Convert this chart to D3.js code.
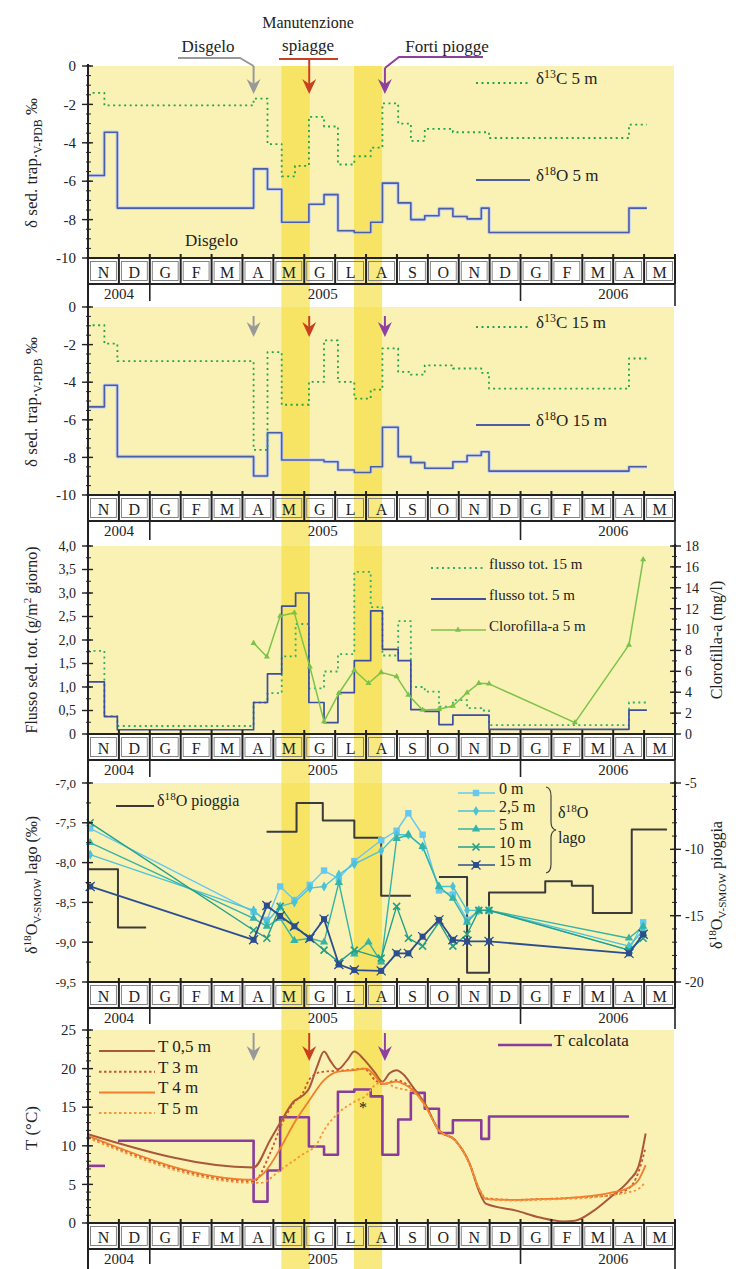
<!DOCTYPE html>
<html><head><meta charset="utf-8">
<script src="https://cdn.jsdelivr.net/npm/d3@7"></script>
<style>
body{margin:0;background:#fff}
svg{display:block}
text{font-family:"Liberation Serif","Times New Roman",serif;fill:#222}
</style>
</head><body>
<svg id="c" width="736" height="1269"></svg>
<script>
// ---------- categories / ticks ----------
const monthLabels = ["N","D","G","F","M","A","M","G","L","A","S","O","N","D","G","F","M","A","M"];
const yearLabels = ["2004","2005","2006"];
const yearBreaks = [2, 14];
const yearLabelAt = [1, 7.6, 17];
const highlightStart = [6.26, 8.61];
const highlightEnd = [7.18, 9.52];
const eventNames = ["Disgelo", "Manutenzione spiagge", "Forti piogge"];
const eventAt = [5.36, 7.16, 9.61];

// ---------- panel 1 : sediment trap 5 m ----------
const d18O5_x = [0, 0.53, 0.95, 5.36, 5.81, 6.27, 7.15, 7.64, 8.09, 8.62, 9.15, 9.53, 10.04, 10.45, 10.9, 11.36, 11.81, 12.27, 12.73, 12.98, 17.51];
const d18O5_v = [-5.7, -3.45, -7.4, -5.36, -6.42, -8.14, -7.2, -6.7, -8.58, -8.67, -8.14, -6.1, -7.13, -8.0, -7.8, -7.43, -7.84, -7.96, -7.4, -8.67, -7.4];
const d13C5_x = [0.15, 0.53, 5.36, 5.81, 6.27, 6.7, 7.15, 7.64, 8.09, 8.62, 9.15, 9.53, 10.04, 10.45, 10.9, 11.81, 12.98, 17.51];
const d13C5_v = [-1.4, -2.05, -1.7, -4.07, -5.75, -5.2, -2.65, -3.15, -5.13, -4.7, -4.25, -1.95, -3.0, -3.9, -3.27, -3.45, -3.75, -3.05];
// ---------- panel 2 : sediment trap 15 m ----------
const d18O15_x = [0, 0.53, 0.95, 5.36, 5.81, 6.27, 7.64, 8.09, 8.62, 9.15, 9.53, 10.04, 10.45, 10.9, 11.81, 12.27, 12.73, 12.98, 17.51];
const d18O15_v = [-5.31, -4.16, -7.96, -8.99, -6.69, -8.14, -8.23, -8.67, -8.8, -8.5, -6.4, -7.96, -8.28, -8.58, -8.23, -7.9, -7.7, -8.73, -8.5];
const d13C15_x = [0.15, 0.53, 0.95, 5.36, 5.81, 6.27, 7.15, 7.64, 8.09, 8.62, 9.15, 9.53, 10.04, 10.45, 10.9, 11.81, 12.73, 12.98, 17.51];
const d13C15_v = [-0.97, -1.95, -2.88, -7.6, -2.4, -5.2, -3.98, -1.77, -3.98, -4.87, -4.4, -2.2, -3.45, -3.6, -3.1, -3.27, -3.5, -4.34, -2.74];
const stepEnd = 18.09;
// ---------- panel 3 : fluxes & chlorophyll ----------
const flux5_x = [0, 0.53, 0.95, 5.36, 5.81, 6.27, 6.72, 7.15, 7.64, 8.09, 8.62, 9.15, 9.53, 10.04, 10.45, 10.9, 11.36, 11.81, 12.98, 17.51];
const flux5_v = [1.11, 0.37, 0.09, 0.67, 1.28, 2.72, 3.0, 0.67, 0.24, 0.88, 1.56, 2.62, 1.8, 1.56, 0.52, 0.48, 0.2, 0.4, 0.1, 0.51];
const flux15_x = [0, 0.53, 0.95, 5.36, 5.81, 6.27, 6.72, 7.15, 7.64, 8.09, 8.62, 9.15, 9.53, 10.04, 10.45, 10.9, 11.36, 11.81, 12.27, 12.73, 12.98, 17.51];
const flux15_v = [1.77, 0.38, 0.17, 0.67, 0.87, 1.65, 2.34, 0.97, 1.33, 1.7, 3.45, 2.7, 1.67, 2.4, 1.0, 0.9, 0.58, 0.72, 0.55, 0.5, 0.19, 0.67];
const chl_x = [5.36, 5.79, 6.22, 6.68, 7.18, 7.64, 8.12, 8.62, 9.08, 9.49, 9.99, 10.37, 10.83, 11.36, 11.81, 12.27, 12.65, 12.98, 15.76, 17.51, 17.97];
const chl_v = [8.7, 7.4, 11.3, 11.6, 6.45, 1.2, 3.9, 6.1, 4.86, 5.9, 5.5, 3.74, 2.3, 2.36, 2.68, 3.96, 4.86, 4.8, 1.09, 8.53, 16.7];
// ---------- panel 4 : d18O lake & rain ----------
const lakeDepths = ["0 m", "2,5 m", "5 m", "10 m", "15 m"];
const lake0_x = [0.07, 5.36, 5.79, 6.22, 6.68, 7.18, 7.64, 8.12, 8.62, 9.49, 9.99, 10.37, 10.83, 11.36, 11.81, 12.27, 12.65, 12.98, 17.51, 17.97];
const lake0_v = [-7.57, -8.62, -8.72, -8.3, -8.47, -8.28, -8.1, -8.2, -7.98, -7.72, -7.6, -7.38, -7.65, -8.35, -8.4, -8.72, -8.6, -8.6, -9.1, -8.75];
const lake25_x = [0.07, 5.36, 5.79, 6.22, 6.68, 7.18, 7.64, 8.12, 8.62, 9.49, 9.99, 10.37, 10.83, 11.36, 11.81, 12.27, 12.65, 12.98, 17.51, 17.97];
const lake25_v = [-7.9, -8.6, -8.75, -8.55, -8.5, -8.32, -8.3, -8.15, -8.02, -7.85, -7.65, -7.65, -7.8, -8.3, -8.3, -8.6, -8.6, -8.6, -9.05, -8.85];
const lake5_x = [0.07, 5.36, 5.79, 6.22, 6.68, 7.18, 7.64, 8.12, 8.62, 9.08, 9.49, 9.99, 10.37, 10.83, 11.36, 11.81, 12.27, 12.65, 12.98, 17.51, 17.97];
const lake5_v = [-7.75, -8.7, -8.8, -8.7, -8.98, -8.95, -9.0, -8.25, -9.15, -9.0, -9.25, -7.7, -7.65, -7.8, -8.3, -8.45, -8.75, -8.6, -8.6, -8.95, -8.8];
const lake10_x = [0.07, 5.36, 5.79, 6.22, 6.68, 7.18, 7.64, 8.12, 8.62, 9.49, 9.99, 10.37, 10.83, 11.36, 11.81, 12.27, 12.65, 12.98, 17.51, 17.97];
const lake10_v = [-7.5, -8.85, -8.95, -8.55, -8.8, -8.95, -9.1, -9.25, -9.1, -9.2, -8.55, -8.95, -9.05, -8.75, -9.05, -8.9, -8.6, -8.6, -9.1, -8.95];
const lake15_x = [0.07, 5.36, 5.79, 6.22, 6.68, 7.18, 7.64, 8.12, 8.62, 9.49, 9.99, 10.37, 10.83, 11.36, 11.81, 12.27, 12.98, 17.51, 17.97];
const lake15_v = [-8.3, -8.97, -8.54, -8.67, -8.8, -8.95, -8.71, -9.28, -9.35, -9.36, -9.14, -9.14, -8.93, -8.72, -8.97, -8.99, -8.99, -9.14, -8.9];
const rainA_x = [0, 0.97], rainA_v = [-11.5, -15.9], rainA_end = 1.88;
const rainB_x = [5.78, 6.75, 7.6, 8.62, 9.49], rainB_v = [-8.68, -6.5, -7.83, -9.13, -13.5], rainB_end = 10.45;
const rainC_x = [11.36, 12.27, 12.98, 14.8, 15.66, 16.34, 17.6], rainC_v = [-12.08, -19.3, -13.25, -12.4, -12.75, -14.8, -8.5], rainC_end = 18.74;
// ---------- panel 5 : temperature ----------
const T05_x = [0, 5.36, 5.89, 6.27, 6.65, 6.95, 7.15, 7.41, 7.64, 7.86, 8.09, 8.39, 8.62, 8.93, 9.3, 9.53, 9.76, 9.99, 10.22, 10.52, 10.9, 11.36, 11.89, 12.35, 12.65, 12.88, 13.86, 14.63, 15.38, 15.76, 16.3, 16.9, 17.51, 17.81, 18.05];
const T05_v = [11.5, 7.2, 10.7, 13.3, 15.7, 16.5, 17.4, 20.2, 22.2, 20.9, 19.9, 21.1, 22.2, 21.2, 19.4, 18.3, 19.4, 19.8, 19.2, 17.6, 15.5, 12.0, 10.7, 7.7, 4.2, 2.5, 1.6, 0.7, 0.2, 0.3, 1.4, 3.3, 5.5, 7.2, 11.6];
const T3_x = [0, 5.36, 5.89, 6.27, 6.65, 6.95, 7.15, 7.41, 7.64, 8.09, 8.62, 8.93, 9.3, 9.53, 9.99, 10.22, 10.52, 10.9, 11.36, 11.89, 12.35, 12.65, 12.88, 13.86, 14.63, 15.38, 16.3, 16.9, 17.51, 17.81, 18.05];
const T3_v = [11.2, 5.4, 9.0, 12.8, 15.5, 16.8, 18.5, 19.4, 19.6, 19.7, 19.9, 20.0, 18.5, 18.0, 18.5, 18.2, 17.3, 15.4, 12.0, 10.7, 7.7, 4.5, 3.2, 3.0, 3.1, 3.2, 3.4, 3.6, 4.5, 6.5, 9.8];
const T4_x = [0, 5.36, 5.7, 6.27, 6.65, 7.15, 7.64, 8.09, 8.62, 9.0, 9.3, 9.53, 9.99, 10.22, 10.52, 10.9, 11.36, 11.89, 12.35, 12.65, 12.88, 13.86, 14.63, 15.38, 16.3, 16.9, 17.51, 17.81, 18.05];
const T4_v = [11.3, 5.6, 6.5, 10.0, 12.8, 15.8, 18.5, 19.6, 19.8, 20.0, 19.0, 18.0, 18.3, 18.0, 17.2, 15.3, 12.0, 10.7, 7.7, 4.5, 3.1, 3.0, 3.1, 3.2, 3.5, 3.9, 4.6, 5.5, 7.5];
const T5_x = [0, 5.36, 5.6, 6.27, 6.95, 7.4, 7.64, 8.09, 8.62, 9.0, 9.3, 9.53, 9.99, 10.22, 10.52, 10.9, 11.36, 11.89, 12.35, 12.65, 12.88, 13.86, 14.63, 15.38, 16.3, 16.9, 17.51, 17.81, 18.05];
const T5_v = [11.0, 5.2, 5.2, 7.0, 8.9, 10.2, 12.0, 14.2, 15.7, 16.5, 17.9, 18.2, 17.5, 17.3, 17.0, 15.2, 12.0, 10.7, 7.6, 4.5, 3.1, 2.9, 3.0, 3.1, 3.3, 3.6, 4.0, 4.4, 5.3];
const Tcalc0_x = [0], Tcalc0_v = [7.4], Tcalc0_end = 0.55;
const Tcalc_x = [0.97, 5.36, 5.81, 6.22, 7.15, 7.64, 8.09, 8.62, 9.15, 9.53, 10.04, 10.45, 10.9, 11.36, 11.81, 12.73, 12.98];
const Tcalc_v = [10.66, 2.77, 6.8, 13.7, 9.9, 8.84, 17.0, 17.3, 16.4, 8.84, 13.4, 16.85, 14.8, 11.65, 13.3, 10.9, 13.8];
const Tcalc_end = 17.51;

// ---------- layout ----------
const svg = d3.select("#c");
const X0 = 88, X1 = 675;
const x = d3.scaleLinear().domain([0, monthLabels.length]).range([X0, X1]);
const panels = [
  {t: 66, b: 258, next: 306},
  {t: 307, b: 495, next: 545},
  {t: 546, b: 734, next: 782},
  {t: 783, b: 982, next: 1029},
  {t: 1030, b: 1223, next: 1269}
];
const MROW = 26;
const y1 = d3.scaleLinear().domain([-10, 0]).range([panels[0].b, panels[0].t]);
const y2 = d3.scaleLinear().domain([-10, 0]).range([panels[1].b, panels[1].t]);
const y3 = d3.scaleLinear().domain([0, 4]).range([panels[2].b, panels[2].t]);
const y3r = d3.scaleLinear().domain([0, 18]).range([panels[2].b, panels[2].t]);
const y4 = d3.scaleLinear().domain([-9.5, -7]).range([panels[3].b, panels[3].t]);
const y4r = d3.scaleLinear().domain([-20, -5]).range([panels[3].b, panels[3].t]);
const y5 = d3.scaleLinear().domain([0, 25]).range([panels[4].b, panels[4].t]);

const gBg = svg.append("g"), gBand = svg.append("g"), gData = svg.append("g"), gAx = svg.append("g");

panels.forEach(p => {
  gBg.append("rect").attr("x", X0).attr("y", p.t).attr("width", X1 - X0 - 1).attr("height", p.b - p.t).attr("fill", "#faf2b5");
});
// highlight bands
highlightStart.forEach((s, i) => {
  gBand.append("rect").attr("x", x(s)).attr("y", panels[0].t).attr("width", x(highlightEnd[i]) - x(s))
    .attr("height", 1269 - panels[0].t).attr("fill", "#f6dc34").attr("opacity", 0.62);
});

// month and year rows
panels.forEach(p => {
  const b = p.b;
  monthLabels.forEach((m, i) => {
    gAx.append("rect").attr("x", x(i) + 2.5).attr("y", b + 3.5).attr("width", x(i + 1) - x(i) - 5).attr("height", MROW - 7)
      .attr("fill", "none").attr("stroke", "#777").attr("stroke-width", 0.9);
    gAx.append("text").attr("x", x(i + 0.5)).attr("y", b + 19.5).attr("text-anchor", "middle").attr("font-size", 16).text(m);
  });
  d3.range(monthLabels.length + 1).forEach(i => {
    gAx.append("line").attr("x1", x(i)).attr("x2", x(i)).attr("y1", b - 4).attr("y2", b + MROW).attr("stroke", "#222").attr("stroke-width", 2);
  });
  [b, b + MROW].forEach(yy => gAx.append("line").attr("x1", X0).attr("x2", X1).attr("y1", yy).attr("y2", yy).attr("stroke", "#222").attr("stroke-width", 2));
  yearBreaks.forEach(k => gAx.append("line").attr("x1", x(k)).attr("x2", x(k)).attr("y1", b + MROW).attr("y2", p.next - 5).attr("stroke", "#222").attr("stroke-width", 1.6));
  gAx.append("line").attr("x1", X1).attr("x2", X1).attr("y1", b + MROW).attr("y2", p.next).attr("stroke", "#222").attr("stroke-width", 1.6);
  yearLabels.forEach((yl, i) => gAx.append("text").attr("x", x(yearLabelAt[i])).attr("y", b + MROW + 15).attr("text-anchor", "middle").attr("font-size", 15).text(yl));
  gAx.append("line").attr("x1", X0).attr("x2", X0).attr("y1", p.t - 2).attr("y2", p.next).attr("stroke", "#222").attr("stroke-width", 2);
});

// ---------- axes ----------
function leftAxis(y, majors, minors, fmt, fs) {
  minors.forEach(v => gAx.append("line").attr("x1", X0 - 2).attr("x2", X0 + 3).attr("y1", y(v)).attr("y2", y(v)).attr("stroke", "#222").attr("stroke-width", 1));
  majors.forEach(v => {
    gAx.append("line").attr("x1", X0 - 6).attr("x2", X0 + 5).attr("y1", y(v)).attr("y2", y(v)).attr("stroke", "#222").attr("stroke-width", 1.4);
    gAx.append("text").attr("x", X0 - 12).attr("y", y(v)).attr("dy", "0.35em").attr("text-anchor", "end").attr("font-size", fs).text(fmt(v));
  });
}
function rightAxis(y, majors, minors, fmt, fs, p) {
  gAx.append("line").attr("x1", X1).attr("x2", X1).attr("y1", p.t - 2).attr("y2", p.b).attr("stroke", "#222").attr("stroke-width", 2);
  minors.forEach(v => gAx.append("line").attr("x1", X1 - 3).attr("x2", X1 + 2).attr("y1", y(v)).attr("y2", y(v)).attr("stroke", "#222").attr("stroke-width", 1));
  majors.forEach(v => {
    gAx.append("line").attr("x1", X1 - 5).attr("x2", X1 + 6).attr("y1", y(v)).attr("y2", y(v)).attr("stroke", "#222").attr("stroke-width", 1.4);
    gAx.append("text").attr("x", X1 + 10).attr("y", y(v)).attr("dy", "0.35em").attr("text-anchor", "start").attr("font-size", fs).text(fmt(v));
  });
}
const comma = v => v === 0 ? "0" : v.toFixed(1).replace(".", ",");
leftAxis(y1, d3.range(-10, 0.1, 2), d3.range(-10, 0.01, 0.5), d => d3.format("d")(d).replace("−", "-"), 15);
leftAxis(y2, d3.range(-10, 0.1, 2), d3.range(-10, 0.01, 0.5), d => d3.format("d")(d).replace("−", "-"), 15);
leftAxis(y3, d3.range(0, 4.01, 0.5), d3.range(0, 4.01, 0.25), comma, 14);
rightAxis(y3r, d3.range(0, 18.1, 2), d3.range(0, 18.1, 1), d => String(d), 14, panels[2]);
leftAxis(y4, d3.range(-9.5, -6.99, 0.5), d3.range(-9.5, -6.99, 0.25), d => d.toFixed(1).replace(".", ","), 13);
rightAxis(y4r, d3.range(-20, -4.9, 5), d3.range(-20, -4.9, 1), d => String(d), 14, panels[3]);
leftAxis(y5, d3.range(0, 25.1, 5), d3.range(0, 25.1, 1), d => String(d), 15);

// ---------- rich text helper ----------
function rich(g, parts, fs) {
  let shift = 0;
  parts.forEach(([t, k]) => {
    const target = k === "sup" ? -0.38 * fs : k === "sub" ? 0.28 * fs : 0;
    g.append("tspan").attr("dy", target - shift).attr("font-size", k ? fs * 0.7 : fs).text(t);
    shift = target;
  });
}
function vTitle(cx, cy, parts, fs) {
  const t = gAx.append("text").attr("transform", `translate(${cx},${cy}) rotate(-90)`).attr("text-anchor", "middle").attr("font-size", fs);
  rich(t, parts, fs);
}
vTitle(37, 163, [["δ sed. trap.", ""], ["V-PDB", "sub"], [" ‰", ""]], 17);
vTitle(37, 402, [["δ sed. trap.", ""], ["V-PDB", "sub"], [" ‰", ""]], 17);
vTitle(37, 640, [["Flusso sed. tot. (g/m", ""], ["2", "sup"], [" giorno)", ""]], 16);
vTitle(722, 640, [["Clorofilla-a (mg/l)", ""]], 16);
vTitle(37, 885, [["δ", ""], ["18", "sup"], ["O", ""], ["V-SMOW", "sub"], [" lago (‰)", ""]], 16);
vTitle(722, 885, [["δ", ""], ["18", "sup"], ["O", ""], ["V-SMOW", "sub"], [" pioggia", ""]], 16);
vTitle(37, 1128, [["T (°C)", ""]], 17);

// ---------- data drawing ----------
const stepPts = (xs, vs, end) => xs.map((d, i) => [d, vs[i]]).concat([[end, vs[vs.length - 1]]]);
const pts = (xs, vs) => xs.map((d, i) => [d, vs[i]]);
function path(points, y, curve, color, w, dash) {
  const line = d3.line().x(d => x(d[0])).y(d => y(d[1])).curve(curve);
  return gData.append("path").attr("d", line(points)).attr("fill", "none").attr("stroke", color).attr("stroke-width", w)
    .attr("stroke-dasharray", dash || null).attr("stroke-linejoin", "round");
}
const BLUE = "#4a5ea6", GREEN = "#22a54a";
// panel 1
path(stepPts(d18O5_x, d18O5_v, stepEnd), y1, d3.curveStepAfter, "#c9d3ee", 3.6);
path(stepPts(d18O5_x, d18O5_v, stepEnd), y1, d3.curveStepAfter, BLUE, 1.6);
path(stepPts(d13C5_x, d13C5_v, stepEnd), y1, d3.curveStepAfter, GREEN, 1.8, "2,3.5");
// panel 2
path(stepPts(d18O15_x, d18O15_v, stepEnd), y2, d3.curveStepAfter, "#c9d3ee", 3.6);
path(stepPts(d18O15_x, d18O15_v, stepEnd), y2, d3.curveStepAfter, BLUE, 1.6);
path(stepPts(d13C15_x, d13C15_v, stepEnd), y2, d3.curveStepAfter, GREEN, 1.8, "2,3.5");
// panel 3
path(stepPts(flux15_x, flux15_v, stepEnd), y3, d3.curveStepAfter, "#2fae6a", 1.8, "2,3.5");
path(stepPts(flux5_x, flux5_v, stepEnd), y3, d3.curveStepAfter, "#3b4f9e", 1.7);
const CHL = "#7cc24a";
path(pts(chl_x, chl_v), y3r, d3.curveLinear, CHL, 1.5);
gData.selectAll(null).data(pts(chl_x, chl_v)).join("path")
  .attr("transform", d => `translate(${x(d[0])},${y3r(d[1])})`).attr("d", d3.symbol(d3.symbolTriangle, 16)).attr("fill", CHL);
// panel 4 rain
const RAIN = "#3a3a3a";
[[rainA_x, rainA_v, rainA_end], [rainB_x, rainB_v, rainB_end], [rainC_x, rainC_v, rainC_end]].forEach(([xs, vs, e]) =>
  path(stepPts(xs, vs, e), y4r, d3.curveStepAfter, RAIN, 2));
// panel 4 lake
const lakeColors = ["#66c8f0", "#4dc2d6", "#34b3a6", "#20a08a", "#2c4e8e"];
const lakeX = [lake0_x, lake25_x, lake5_x, lake10_x, lake15_x];
const lakeV = [lake0_v, lake25_v, lake5_v, lake10_v, lake15_v];
function marker(g, k, cx, cy, col) {
  if (k === 0) g.append("rect").attr("x", cx - 3.2).attr("y", cy - 3.2).attr("width", 6.4).attr("height", 6.4).attr("fill", col);
  else if (k === 1) g.append("path").attr("transform", `translate(${cx},${cy})`).attr("d", d3.symbol(d3.symbolDiamond, 30)()).attr("fill", col);
  else if (k === 2) g.append("path").attr("transform", `translate(${cx},${cy})`).attr("d", d3.symbol(d3.symbolTriangle, 30)()).attr("fill", col);
  else if (k === 3) g.append("path").attr("transform", `translate(${cx},${cy})`).attr("d", "M-3.5,-3.5L3.5,3.5M3.5,-3.5L-3.5,3.5").attr("stroke", col).attr("stroke-width", 1.6);
  else {
    g.append("rect").attr("x", cx - 3).attr("y", cy - 3).attr("width", 6).attr("height", 6).attr("fill", col);
    g.append("path").attr("transform", `translate(${cx},${cy})`).attr("d", "M-4.5,-4.5L4.5,4.5M4.5,-4.5L-4.5,4.5").attr("stroke", col).attr("stroke-width", 1.3);
  }
}
[0, 1, 2, 3, 4].forEach(k => {
  path(pts(lakeX[k], lakeV[k]), y4, d3.curveLinear, lakeColors[k], k === 4 ? 1.8 : 1.4);
  pts(lakeX[k], lakeV[k]).forEach(d => marker(gData, k, x(d[0]), y4(d[1]), lakeColors[k]));
});
// panel 5
const PURP = "#8a3c9c";
path(stepPts(Tcalc0_x, Tcalc0_v, Tcalc0_end), y5, d3.curveStepAfter, PURP, 2.6);
path(stepPts(Tcalc_x, Tcalc_v, Tcalc_end), y5, d3.curveStepAfter, PURP, 2.6);
const TC = ["#a9583a", "#d0532a", "#f07e2c", "#f5963c"];
path(pts(T05_x, T05_v), y5, d3.curveMonotoneX, TC[0], 2);
path(pts(T3_x, T3_v), y5, d3.curveMonotoneX, TC[1], 1.8, "2.5,2.5");
path(pts(T4_x, T4_v), y5, d3.curveMonotoneX, TC[2], 1.8);
path(pts(T5_x, T5_v), y5, d3.curveMonotoneX, TC[3], 1.8, "2.5,2.5");
gAx.append("text").attr("x", x(8.9)).attr("y", y5(15)).attr("dy", "0.35em").attr("text-anchor", "middle").attr("font-size", 16).text("*");

// ---------- legends ----------
function legLine(x1, x2, yy, col, w, dash) {
  gAx.append("line").attr("x1", x1).attr("x2", x2).attr("y1", yy).attr("y2", yy).attr("stroke", col).attr("stroke-width", w).attr("stroke-dasharray", dash || null);
}
function legText(xx, yy, parts, fs) {
  const t = gAx.append("text").attr("x", xx).attr("y", yy).attr("dy", "0.35em").attr("font-size", fs);
  rich(t, parts, fs);
}
legLine(476, 530, 83, GREEN, 1.8, "2,3.5"); legText(536, 84, [["δ", ""], ["13", "sup"], ["C 5 m", ""]], 17);
legLine(476, 530, 180, BLUE, 1.8); legText(536, 181, [["δ", ""], ["18", "sup"], ["O 5 m", ""]], 17);
legLine(476, 530, 327, GREEN, 1.8, "2,3.5"); legText(536, 328, [["δ", ""], ["13", "sup"], ["C 15 m", ""]], 17);
legLine(476, 530, 425, BLUE, 1.8); legText(536, 426, [["δ", ""], ["18", "sup"], ["O 15 m", ""]], 17);
legLine(431, 486, 568, "#2fae6a", 1.8, "2,3.5"); legText(489, 569, [["flusso tot. 15 m", ""]], 15);
legLine(431, 486, 599, "#3b4f9e", 1.8); legText(489, 600, [["flusso tot. 5 m", ""]], 15);
legLine(431, 486, 630, CHL, 1.6); legText(489, 631, [["Clorofilla-a 5 m", ""]], 15);
gAx.append("path").attr("transform", "translate(458,630)").attr("d", d3.symbol(d3.symbolTriangle, 16)()).attr("fill", CHL);
legLine(116, 154, 806, RAIN, 2); legText(157, 806, [["δ", ""], ["18", "sup"], ["O pioggia", ""]], 16);
lakeDepths.forEach((lab, k) => {
  const yy = 793 + k * 18;
  legLine(458, 495, yy, lakeColors[k], 1.5);
  marker(gAx, k, 476, yy, lakeColors[k]);
  legText(499, yy + 1, [[lab, ""]], 16);
});
gAx.append("path").attr("d", "M546,787 Q551,788 551,796 L551,822 Q551,829 556,830 Q551,831 551,838 L551,864 Q551,872 546,873")
  .attr("fill", "none").attr("stroke", "#333").attr("stroke-width", 1.1);
legText(558, 818, [["δ", ""], ["18", "sup"], ["O", ""]], 16);
legText(558, 843, [["lago", ""]], 16);
const TL = ["T 0,5 m", "T 3 m", "T 4 m", "T 5 m"];
const TD = [null, "2.5,2.5", null, "2.5,2.5"];
TL.forEach((lab, k) => {
  const yy = 1051 + k * 20.7;
  legLine(99, 155, yy, TC[k], 2, TD[k]);
  legText(158, yy + 1, [[lab, ""]], 17);
});
legLine(498, 552, 1045, PURP, 2.6); legText(554, 1046, [["T calcolata", ""]], 17);
gAx.append("text").attr("x", 185).attr("y", 240).attr("dy", "0.35em").attr("font-size", 17).text("Disgelo");

// ---------- event arrows ----------
const EVC = ["#999999", "#c8401e", "#8e3fa0"];
function arrow(xx, y0, tip, col) {
  gAx.append("line").attr("x1", xx).attr("x2", xx).attr("y1", y0).attr("y2", tip - 8).attr("stroke", col).attr("stroke-width", 2);
  gAx.append("path").attr("d", `M${xx - 7},${tip - 15} L${xx},${tip} L${xx + 7},${tip - 15} L${xx},${tip - 10} Z`).attr("fill", col);
}
eventAt.forEach((m, i) => {
  arrow(x(m), i === 0 ? 66 : (i === 1 ? 59 : 68), 94, EVC[i]);
  arrow(x(m), 316, 337, EVC[i]);
  arrow(x(m), 1033, 1061, EVC[i]);
});
// header labels
gAx.append("text").attr("x", 208).attr("y", 52).attr("text-anchor", "middle").attr("font-size", 17).text(eventNames[0]);
gAx.append("path").attr("d", `M178,58 L240,58 L${x(eventAt[0])},66`).attr("fill", "none").attr("stroke", EVC[0]).attr("stroke-width", 2);
const mp = eventNames[1].split(" ");
gAx.append("text").attr("x", 308).attr("y", 28).attr("text-anchor", "middle").attr("font-size", 16).text(mp[0]);
gAx.append("text").attr("x", 308).attr("y", 51).attr("text-anchor", "middle").attr("font-size", 17).text(mp[1]);
gAx.append("line").attr("x1", 279).attr("x2", 338).attr("y1", 59).attr("y2", 59).attr("stroke", EVC[1]).attr("stroke-width", 2.2);
gAx.append("text").attr("x", 447).attr("y", 52).attr("text-anchor", "middle").attr("font-size", 17).text(eventNames[2]);
gAx.append("path").attr("d", `M483,57 L399,57 L${x(eventAt[2])},68`).attr("fill", "none").attr("stroke", EVC[2]).attr("stroke-width", 2);
</script>
</body></html>
